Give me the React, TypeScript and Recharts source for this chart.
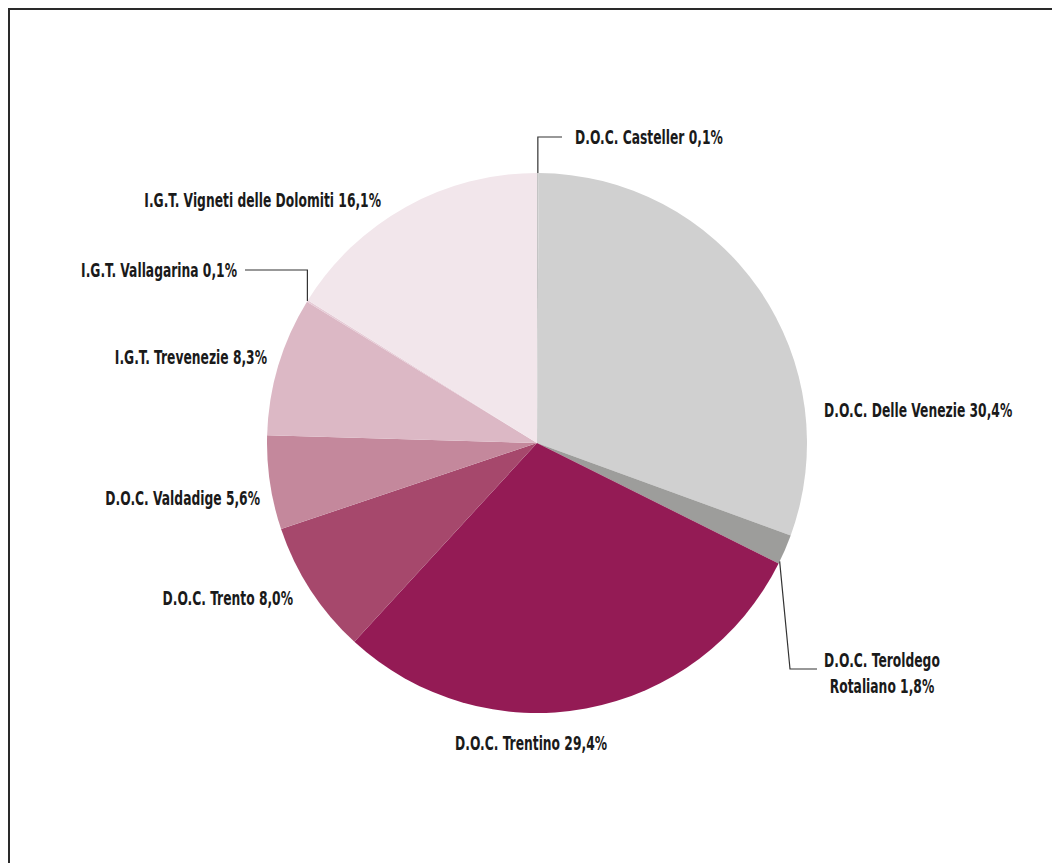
import { Cell, Pie, PieChart } from 'recharts'

const categories = [
  'D.O.C. Casteller',
  'D.O.C. Delle Venezie',
  'D.O.C. Teroldego Rotaliano',
  'D.O.C. Trentino',
  'D.O.C. Trento',
  'D.O.C. Valdadige',
  'I.G.T. Trevenezie',
  'I.G.T. Vallagarina',
  'I.G.T. Vigneti delle Dolomiti',
]

const shares = [0.1, 30.4, 1.8, 29.4, 8.0, 5.6, 8.3, 0.1, 16.1]

// label text as printed, one entry per line
const labelLines = [
  ['D.O.C. Casteller 0,1%'],
  ['D.O.C. Delle Venezie 30,4%'],
  ['D.O.C. Teroldego', 'Rotaliano 1,8%'],
  ['D.O.C. Trentino 29,4%'],
  ['D.O.C. Trento 8,0%'],
  ['D.O.C. Valdadige 5,6%'],
  ['I.G.T. Trevenezie 8,3%'],
  ['I.G.T. Vallagarina 0,1%'],
  ['I.G.T. Vigneti delle Dolomiti 16,1%'],
]

const colors = [
  '#c4c4c4',
  '#d0d0d0',
  '#9d9d9b',
  '#941b55',
  '#a6486c',
  '#c4889c',
  '#dcb8c5',
  '#e6cbd6',
  '#f2e6eb',
]

type LabelLayout = {
  dx: number
  dy: number
  anchor: 'start' | 'middle' | 'end'
  leader?: 'up' | 'down'
}

// label placement relative to the pie centre
const layout: LabelLayout[] = [
  { dx: 38, dy: -306, anchor: 'start', leader: 'up' },
  { dx: 287, dy: -33, anchor: 'start' },
  { dx: 345, dy: 217, anchor: 'middle', leader: 'down' },
  { dx: -6, dy: 300, anchor: 'middle' },
  { dx: -244, dy: 155, anchor: 'end' },
  { dx: -277, dy: 55, anchor: 'end' },
  { dx: -270, dy: -86, anchor: 'end' },
  { dx: -300, dy: -173, anchor: 'end', leader: 'up' },
  { dx: -156, dy: -243, anchor: 'end' },
]

const data = categories.map((name, i) => ({ name, value: shares[i] }))

const RAD = Math.PI / 180

function renderLabel(props: any) {
  const { cx, cy, midAngle, endAngle, outerRadius, index } = props
  const l = layout[index]
  const tx = cx + l.dx
  const ty = cy + l.dy
  // the lower leader starts at the slice's far edge, the others at its middle
  const a = l.leader === 'down' && typeof endAngle === 'number' ? endAngle + 0.5 : midAngle
  const ex = cx + outerRadius * Math.cos(a * RAD)
  const ey = cy - outerRadius * Math.sin(a * RAD)
  let path = ''
  if (l.leader === 'up') {
    const endX = l.anchor === 'start' ? tx - 13 : tx + 8
    path = `M${ex},${ey} L${ex},${ty} L${endX},${ty}`
  } else if (l.leader === 'down') {
    path = `M${ex},${ey} L${cx + 253},${cy + 226} L${cx + 280},${cy + 226}`
  }
  return (
    <g key={`label-${index}`}>
      {path && <path d={path} fill="none" stroke="#333" strokeWidth={1.2} />}
      <g transform={`translate(${tx},${ty}) scale(0.72,1)`}>
        <text
          x={0}
          y={0}
          textAnchor={l.anchor}
          dominantBaseline="central"
          fontFamily="'DejaVu Sans Condensed', 'DejaVu Sans', sans-serif"
          fontWeight="bold"
          fontSize={19}
          fill="#1a1a1a"
        >
          {labelLines[index].map((line, k) => (
            <tspan key={k} x={0} dy={k === 0 ? 0 : 26}>
              {line}
            </tspan>
          ))}
        </text>
      </g>
    </g>
  )
}

export default function App() {
  return (
    <div
      style={{
        width: 1052,
        height: 855,
        boxSizing: 'border-box',
        borderTop: '2px solid #2a2a2a',
        borderLeft: '2px solid #2a2a2a',
        overflow: 'hidden',
        background: '#fff',
      }}
    >
      <PieChart width={1050} height={853}>
        <Pie
          data={data}
          dataKey="value"
          nameKey="name"
          cx={522}
          cy={428}
          outerRadius={270}
          startAngle={90}
          endAngle={-270}
          stroke="none"
          label={renderLabel}
          labelLine={false}
          isAnimationActive={false}
        >
          {data.map((d, i) => (
            <Cell key={d.name} fill={colors[i]} />
          ))}
        </Pie>
      </PieChart>
    </div>
  )
}
